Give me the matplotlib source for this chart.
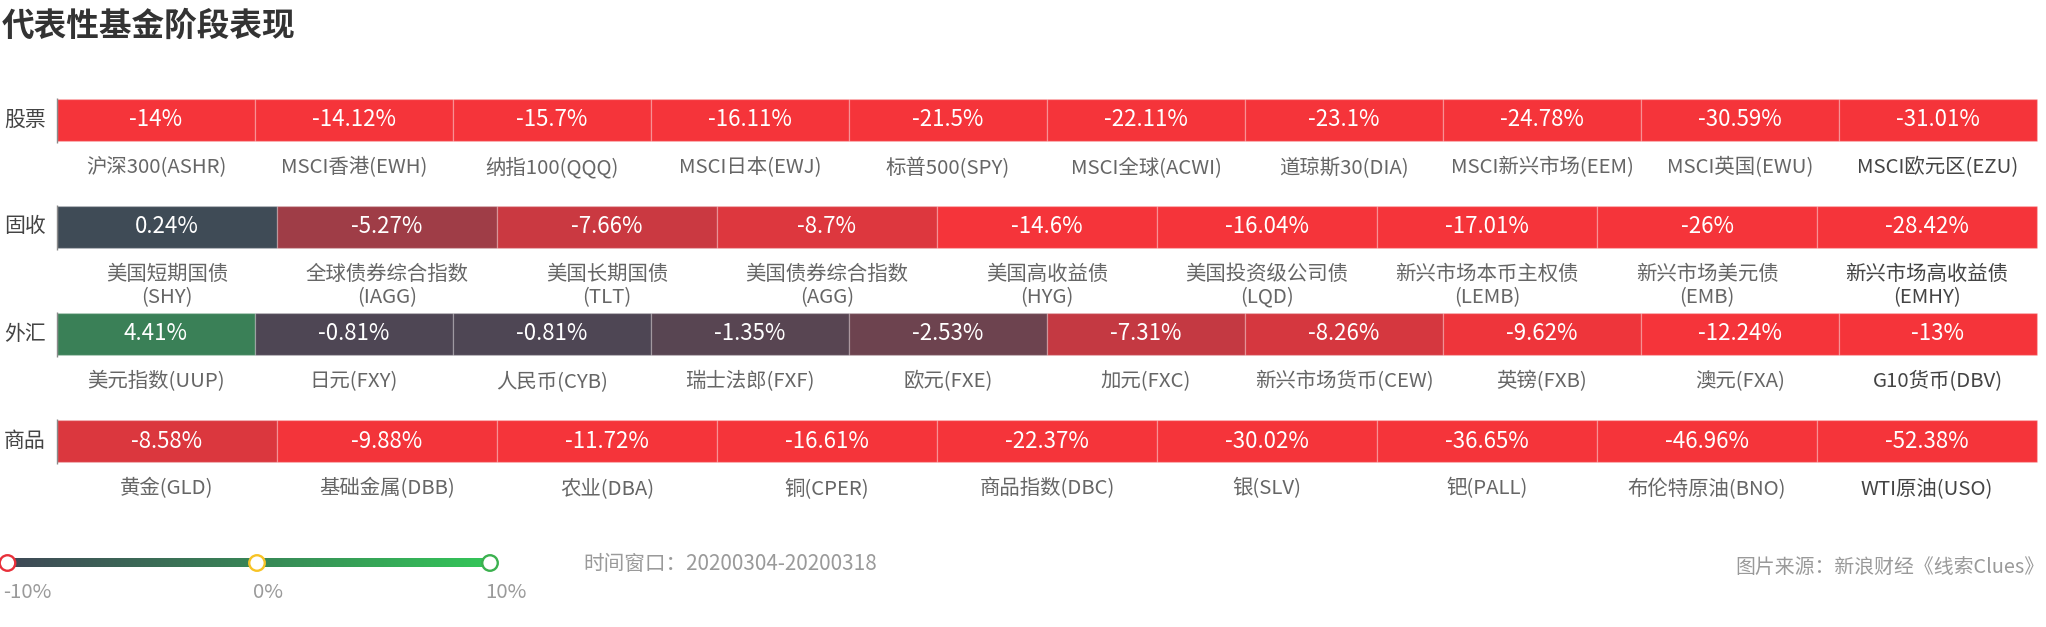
import numpy as np
import matplotlib
matplotlib.use("Agg")
import matplotlib.pyplot as plt
from matplotlib.colors import LinearSegmentedColormap

plt.rcParams['font.family'] = ['Noto Sans CJK SC', 'DejaVu Sans']

# ---------------- data ----------------
title = "代表性基金阶段表现"
row_names = ['股票', '固收', '外汇', '商品']

stock_labels = ['沪深300(ASHR)', 'MSCI香港(EWH)', '纳指100(QQQ)', 'MSCI日本(EWJ)', '标普500(SPY)',
                'MSCI全球(ACWI)', '道琼斯30(DIA)', 'MSCI新兴市场(EEM)', 'MSCI英国(EWU)', 'MSCI欧元区(EZU)']
stock_values = [-14, -14.12, -15.7, -16.11, -21.5, -22.11, -23.1, -24.78, -30.59, -31.01]

bond_labels = ['美国短期国债\n(SHY)', '全球债券综合指数\n(IAGG)', '美国长期国债\n(TLT)', '美国债券综合指数\n(AGG)',
               '美国高收益债\n(HYG)', '美国投资级公司债\n(LQD)', '新兴市场本币主权债\n(LEMB)', '新兴市场美元债\n(EMB)',
               '新兴市场高收益债\n(EMHY)']
bond_values = [0.24, -5.27, -7.66, -8.7, -14.6, -16.04, -17.01, -26, -28.42]

fx_labels = ['美元指数(UUP)', '日元(FXY)', '人民币(CYB)', '瑞士法郎(FXF)', '欧元(FXE)', '加元(FXC)',
             '新兴市场货币(CEW)', '英镑(FXB)', '澳元(FXA)', 'G10货币(DBV)']
fx_values = [4.41, -0.81, -0.81, -1.35, -2.53, -7.31, -8.26, -9.62, -12.24, -13]

cmd_labels = ['黄金(GLD)', '基础金属(DBB)', '农业(DBA)', '铜(CPER)', '商品指数(DBC)', '银(SLV)',
              '钯(PALL)', '布伦特原油(BNO)', 'WTI原油(USO)']
cmd_values = [-8.58, -9.88, -11.72, -16.61, -22.37, -30.02, -36.65, -46.96, -52.38]

legend_values = [-10, 0, 10]
legend_labels = ['-10%', '0%', '10%']
window_text = "时间窗口：20200304-20200318"
source_text = "图片来源：新浪财经《线索Clues》"

# ---------------- styling ----------------
W, H = 2046, 627
SLATE = np.array([63, 72, 86]) / 255
RED = np.array([245, 52, 58]) / 255
GREEN = np.array([52, 199, 89]) / 255


def cell_color(v):
    t = max(-1.0, min(1.0, v / 10.0))
    if t < 0:
        return tuple(SLATE + (-t) * (RED - SLATE))
    return tuple(SLATE + t * (GREEN - SLATE))


fig = plt.figure(figsize=(W / 100, H / 100), dpi=100)
ax = fig.add_axes([0, 0, 1, 1])
ax.set_xlim(0, W)
ax.set_ylim(H, 0)
ax.axis('off')

ax.text(2, 26, title, fontsize=23.5, fontweight='bold', color='#333333', ha='left', va='center')

bar_x0, bar_x1 = 57, 2037
bar_h = 42
row_centers = [120, 226.5, 333.5, 441]
rows = [(stock_labels, stock_values), (bond_labels, bond_values),
        (fx_labels, fx_values), (cmd_labels, cmd_values)]

for name, yc, (labels, values) in zip(row_names, row_centers, rows):
    n = len(values)
    cw = (bar_x1 - bar_x0) / n
    lefts = bar_x0 + cw * np.arange(n)
    ax.barh([yc] * n, [cw] * n, left=lefts, height=bar_h,
            color=[cell_color(v) for v in values],
            edgecolor=(1, 1, 1, 0.22), linewidth=1.0)
    ax.vlines(bar_x0, yc - bar_h / 2 - 1, yc + bar_h / 2 + 2, color='#8a8a8a', lw=1.0)
    ax.text(4, yc, name, fontsize=15, color='#444444', ha='left', va='center')
    bottom = yc + bar_h / 2
    for i, (lab, v) in enumerate(zip(labels, values)):
        cx = lefts[i] + cw / 2
        ax.text(cx, yc, f"{v:g}%", fontsize=16, color='white', ha='center', va='center')
        col = '#444444' if i == n - 1 else '#666666'
        if '\n' in lab:
            ax.text(cx, bottom + 16, lab, fontsize=14.7, color=col, ha='center', va='top',
                    linespacing=1.15, multialignment='center')
        else:
            ax.text(cx, bottom + 27, lab, fontsize=14.7, color=col, ha='center', va='center')

# ---------------- legend (visual map) ----------------
leg_px = [7.5, 257, 490]          # screen positions of handles
leg_y = 563
cmap = LinearSegmentedColormap.from_list('vm', [tuple(SLATE), (0.22, 0.52, 0.34), tuple(GREEN)])
grad = np.linspace(0, 1, 256).reshape(1, -1)
ax.imshow(grad, cmap=cmap, aspect='auto', extent=[leg_px[0], 493, leg_y + 4.5, leg_y - 4.5], zorder=2)
hx = np.interp(legend_values, legend_values, leg_px)
ax.scatter(hx, [leg_y] * 3, s=125, facecolors='white',
           edgecolors=['#e8303a', '#f7c325', '#3bb14f'], linewidths=1.7, zorder=3, clip_on=False)
for x, lab in zip(hx, legend_labels):
    ax.text(x - 4.5, 592, lab, fontsize=14.7, color='#9a9a9a', ha='left', va='center')

ax.text(583, 564, window_text, fontsize=14.9, color='#9a9a9a', ha='left', va='center')
ax.text(2044, 567, source_text, fontsize=14.3, color='#9a9a9a', ha='right', va='center')

fig.savefig('out.png', dpi=100)
